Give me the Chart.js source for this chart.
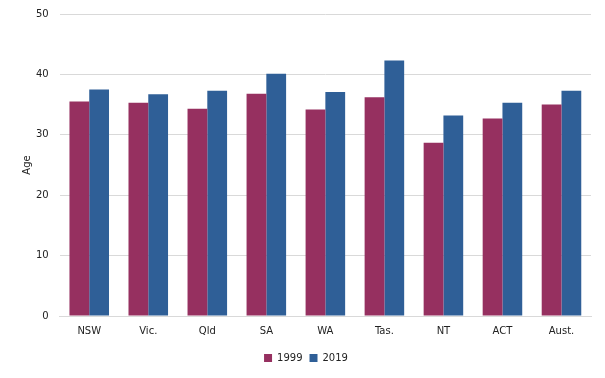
<!DOCTYPE html>
<html>
<head>
<meta charset="utf-8">
<script src="https://cdn.jsdelivr.net/npm/chart.js@4"></script>
<style>
  body { margin: 0; background: #fff; }
  #wrap { width: 605px; height: 378px; }
</style>
</head>
<body>
<div id="wrap"><canvas id="ageChart" width="605" height="378"></canvas></div>
<script>
// Median age by state, 1999 vs 2019
const states = ['NSW', 'Vic.', 'Qld', 'SA', 'WA', 'Tas.', 'NT', 'ACT', 'Aust.'];
const age1999 = [35.5, 35.3, 34.3, 36.8, 34.2, 36.2, 28.7, 32.7, 35.0];
const age2019 = [37.5, 36.7, 37.3, 40.1, 37.1, 42.3, 33.2, 35.3, 37.3];
const yTicks = [0, 10, 20, 30, 40, 50];

const fontFamily = "'DejaVu Sans', sans-serif";

new Chart(document.getElementById('ageChart').getContext('2d'), {
    type: 'bar',
    data: {
        labels: states,
        datasets: [{
            label: '1999',
            data: age1999,
            backgroundColor: '#963060'
        }, {
            label: '2019',
            data: age2019,
            backgroundColor: '#2F5F97'
        }]
    },
    options: {
        responsive: false,
        animation: false,
        layout: { padding: { top: 14, right: 14, left: 21, bottom: 5 } },
        datasets: {
            bar: { categoryPercentage: 0.67, barPercentage: 1.0 }
        },
        scales: {
            x: {
                grid: { display: false, drawTicks: false },
                border: { display: true, color: '#d9d9d9', width: 1 },
                ticks: { color: '#222', font: { family: fontFamily, size: 10 }, padding: 9 }
            },
            y: {
                min: 0,
                max: 50,
                afterBuildTicks: axis => { axis.ticks = yTicks.map(v => ({ value: v })); },
                grid: { color: '#d9d9d9', drawTicks: false },
                border: { display: false },
                ticks: { color: '#222', font: { family: fontFamily, size: 10, lineHeight: 0.5 }, padding: 11 },
                title: { display: true, text: 'Age', color: '#222', font: { family: fontFamily, size: 10 }, padding: { top: 0, bottom: -8 } }
            }
        },
        plugins: {
            legend: {
                position: 'bottom',
                labels: {
                    boxWidth: 8,
                    boxHeight: 8,
                    padding: 7,
                    color: '#222',
                    font: { family: fontFamily, size: 10 }
                }
            },
            tooltip: { enabled: false }
        }
    }
});
</script>
</body>
</html>
